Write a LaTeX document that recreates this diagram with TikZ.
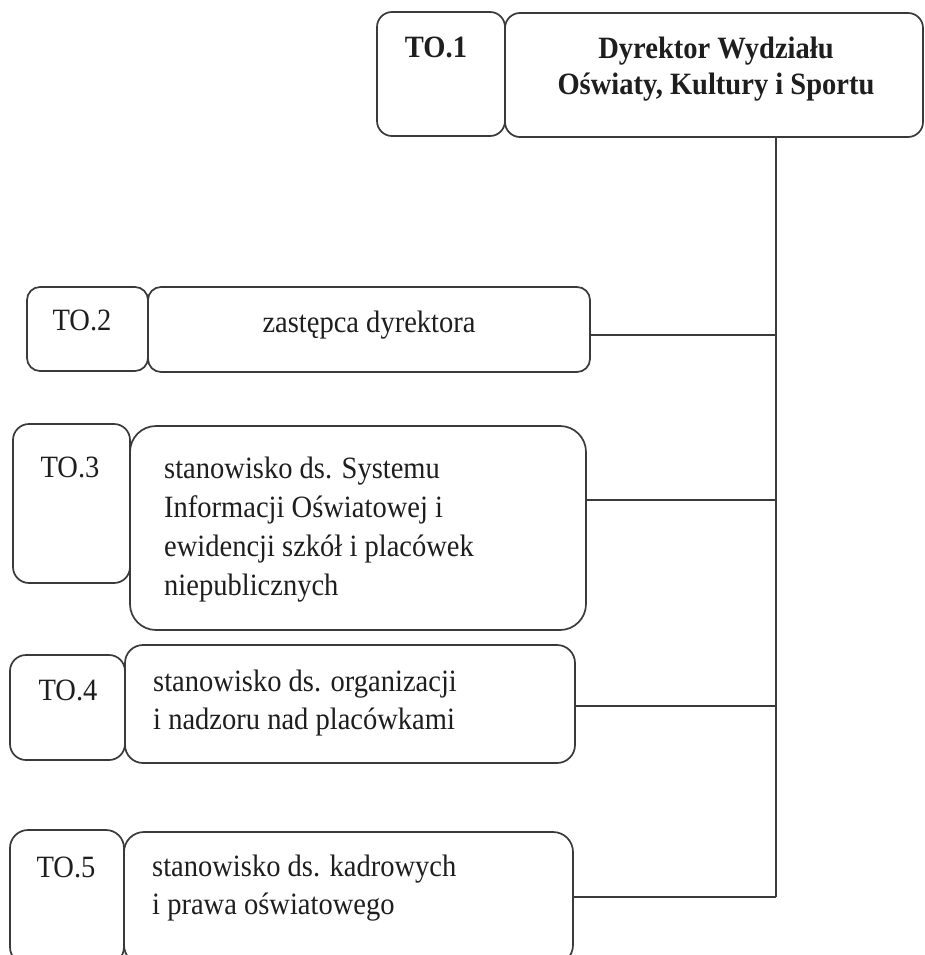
\documentclass[tikz,border=0pt]{standalone}
\usepackage{fontspec}
\setmainfont{Liberation Serif}[FakeStretch=0.92]
\definecolor{linec}{HTML}{3A3A3A}
\definecolor{textc}{HTML}{1E1E1E}
\begin{document}
\begin{tikzpicture}[x=1pt,y=-1pt,
  frame/.style={draw=linec, line width=1.7pt, rounded corners=#1, inner sep=0pt, rectangle},
  frame/.default=15pt,
  lbl/.style={text=textc, inner sep=0pt, font=\fontsize{31}{38}\selectfont},
  blbl/.style={lbl, font=\fontsize{31}{36}\selectfont\bfseries},
  desc/.style={lbl, align=left, anchor=west},
  conn/.style={draw=linec, line width=1.7pt}]
\useasboundingbox (0,0) rectangle (925,955);
\clip (0,0) rectangle (925,955);
\fill[white] (0,0) rectangle (925,955);
% TO.1
\node[frame=15pt, minimum width=128pt, minimum height=124pt] (s1) at (441,74) {};
\node[frame=15pt, minimum width=418pt, minimum height=124pt] (b1) at (714,75) {};
\node[blbl] (t1) at (436,47) {TO.1};
\node[blbl, align=center] (d1) at (716,69) {Dyrektor Wydziału\\Oświaty, Kultury i Sportu};
% TO.2
\node[frame=13pt, minimum width=121pt, minimum height=84pt] (s2) at (87.5,329) {};
\node[frame=13pt, minimum width=442pt, minimum height=85pt] (b2) at (369,329.5) {};
\node[lbl] (t2) at (82,320) {TO.2};
\node[lbl] (d2) at (369,325) {zastępca dyrektora};
% TO.3
\node[frame=16pt, minimum width=117pt, minimum height=159pt] (s3) at (71.5,503.5) {};
\node[frame=26pt, minimum width=456pt, minimum height=204pt] (b3) at (358,528) {};
\node[lbl] (t3) at (70,467) {TO.3};
\node[desc, font=\fontsize{31}{39}\selectfont] (d3) at (164,530) {stanowisko ds. Systemu\\Informacji Oświatowej i\\ewidencji szkół i placówek\\niepublicznych};
% TO.4
\node[frame=16pt, minimum width=115pt, minimum height=105pt] (s4) at (67.5,707.5) {};
\node[frame=18pt, minimum width=450pt, minimum height=118pt] (b4) at (350,704) {};
\node[lbl] (t4) at (68,690) {TO.4};
\node[desc] (d4) at (153,703) {stanowisko ds. organizacji\\i nadzoru nad placówkami};
% TO.5
\node[frame=18pt, minimum width=114pt, minimum height=135pt] (s5) at (67,897.5) {};
\node[frame=20pt, minimum width=449pt, minimum height=133pt] (b5) at (348.5,898.5) {};
\node[lbl] (t5) at (66,867) {TO.5};
\node[desc] (d5) at (152,888) {stanowisko ds. kadrowych\\i prawa oświatowego};
% connectors
\coordinate (j2) at (776,335);
\coordinate (j3) at (776,500);
\coordinate (j4) at (776,706);
\coordinate (j5) at (776,897);
\draw[conn] (b1.south -| j5) -- (j5);
\draw[conn] (b2.east |- j2) -- (j2);
\draw[conn] (b3.east |- j3) -- (j3);
\draw[conn] (b4.east |- j4) -- (j4);
\draw[conn] (b5.east |- j5) -- (j5);
\end{tikzpicture}
\end{document}
